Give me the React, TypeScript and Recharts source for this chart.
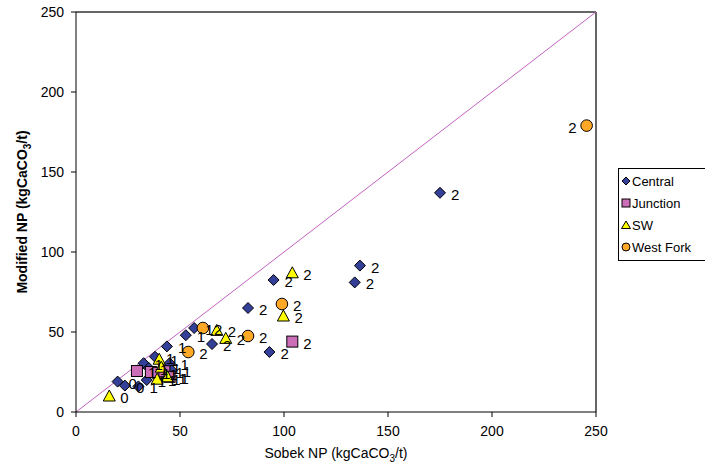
import React from 'react';
import { ScatterChart, Scatter, XAxis, YAxis, ReferenceLine, Label } from 'recharts';

const xTicks = [0, 50, 100, 150, 200, 250];
const yTicks = [0, 50, 100, 150, 200, 250];

const central = [
  { x: 20, y: 19, np: '0' },
  { x: 23.5, y: 16.5, np: '0' },
  { x: 30, y: 16, np: '1' },
  { x: 34, y: 20, np: '1' },
  { x: 32.5, y: 30.5, np: '1' },
  { x: 35, y: 27.5, np: '1' },
  { x: 38, y: 34.5, np: '1' },
  { x: 43.7, y: 41, np: '1' },
  { x: 45, y: 30.5, np: '1' },
  { x: 46, y: 26, np: '1' },
  { x: 41, y: 21, np: '1' },
  { x: 52.8, y: 48, np: '1' },
  { x: 56.8, y: 52.5, np: '1' },
  { x: 65.4, y: 42.5, np: '2' },
  { x: 82.7, y: 65, np: '2' },
  { x: 93, y: 37.5, np: '2' },
  { x: 95, y: 82.5, np: '2' },
  { x: 134, y: 81, np: '2' },
  { x: 136.5, y: 91.5, np: '2' },
  { x: 175, y: 137, np: '2' },
];

const junction = [
  { x: 29.3, y: 25.6, np: '1' },
  { x: 36, y: 25, np: '1' },
  { x: 39.5, y: 24.5, np: '1' },
  { x: 42.5, y: 25.5, np: '1' },
  { x: 45, y: 22, np: '1' },
  { x: 104, y: 44, np: '2' },
];

const sw = [
  { x: 16, y: 10, np: '0' },
  { x: 39, y: 20.5, np: '1' },
  { x: 40, y: 33, np: '1' },
  { x: 41, y: 28, np: '1' },
  { x: 44, y: 22, np: '1' },
  { x: 67.7, y: 51, np: '2' },
  { x: 72, y: 46, np: '2' },
  { x: 99.7, y: 60, np: '2' },
  { x: 104, y: 87, np: '2' },
];

const westFork = [
  { x: 54, y: 37.5, np: '2' },
  { x: 61, y: 52.5, np: '2' },
  { x: 82.7, y: 47.5, np: '2' },
  { x: 99, y: 67.5, np: '2' },
  { x: 245.5, y: 179, np: '2' },
];

const seriesNames = ['Central', 'Junction', 'SW', 'West Fork'];

const FONT = 'Liberation Sans, Arial, sans-serif';
const C_CENTRAL = '#333F99';
const C_JUNCTION = '#CC6DB8';
const C_SW = '#FFFF00';
const C_WF = '#FFA826';

const Diamond = (p: any) => {
  const { cx, cy } = p;
  const r = 5.5;
  return <path d={`M${cx},${cy - r}L${cx + r},${cy}L${cx},${cy + r}L${cx - r},${cy}Z`} fill={C_CENTRAL} stroke="#000" strokeWidth={1} />;
};
const Square = (p: any) => {
  const { cx, cy } = p;
  const h = 5.5;
  return <rect x={cx - h} y={cy - h} width={2 * h} height={2 * h} fill={C_JUNCTION} stroke="#000" strokeWidth={1} />;
};
const Triangle = (p: any) => {
  const { cx, cy } = p;
  return <path d={`M${cx},${cy - 6}L${cx + 6},${cy + 5}L${cx - 6},${cy + 5}Z`} fill={C_SW} stroke="#000" strokeWidth={1} />;
};
const Circle = (p: any) => (
  <circle cx={p.cx} cy={p.cy} r={5.8} fill={C_WF} stroke="#000" strokeWidth={1} />
);

const LabelShape = (p: any) => {
  const { cx, cy, payload } = p;
  const left = payload.x > 240;
  return (
    <text
      x={left ? cx - 10 : cx + 11}
      y={cy + 7}
      textAnchor={left ? 'end' : 'start'}
      fontSize={15}
      fontFamily={FONT}
      fill="#000"
    >
      {payload.np}
    </text>
  );
};

const XTitle = (props: any) => {
  const vb = props.viewBox || {};
  const cx = vb.x + vb.width / 2;
  return (
    <text x={cx} y={458} textAnchor="middle" fontSize={14} fontFamily={FONT} fill="#000">
      Sobek NP (kgCaCO<tspan dy={4} fontSize={10}>3</tspan><tspan dy={-4}>/t)</tspan>
    </text>
  );
};

const YTitle = (props: any) => {
  const vb = props.viewBox || {};
  const cy = vb.y + vb.height / 2;
  return (
    <text x={0} y={0} transform={`translate(27,${cy}) rotate(-90)`} textAnchor="middle" fontSize={14} fontWeight="bold" fontFamily={FONT} fill="#000">
      Modified NP (kgCaCO<tspan dy={4} fontSize={10}>3</tspan><tspan dy={-4}>/t)</tspan>
    </text>
  );
};

const LegendBox = () => {
  const rows = [
    { name: seriesNames[0], y: 13 },
    { name: seriesNames[1], y: 35 },
    { name: seriesNames[2], y: 57 },
    { name: seriesNames[3], y: 79 },
  ];
  return (
    <svg width={90} height={94} style={{ position: 'absolute', left: 618, top: 168 }}>
      <rect x={0.5} y={0.5} width={100} height={92} fill="#fff" stroke="#000" strokeWidth={1} />
      {rows.map((r, i) => {
        const cx = 8;
        const cy = r.y;
        let m;
        if (i === 0) m = <path d={`M${cx},${cy - 4}L${cx + 4},${cy}L${cx},${cy + 4}L${cx - 4},${cy}Z`} fill={C_CENTRAL} stroke="#000" />;
        else if (i === 1) m = <rect x={cx - 4} y={cy - 4} width={8} height={8} fill={C_JUNCTION} stroke="#000" />;
        else if (i === 2) m = <path d={`M${cx},${cy - 4}L${cx + 4.5},${cy + 3.5}L${cx - 4.5},${cy + 3.5}Z`} fill={C_SW} stroke="#000" />;
        else m = <circle cx={cx} cy={cy} r={4} fill={C_WF} stroke="#000" />;
        return (
          <g key={r.name}>
            {m}
            <text x={14} y={cy + 4.5} fontSize={13} fontFamily={FONT} fill="#000">{r.name}</text>
          </g>
        );
      })}
    </svg>
  );
};

export default function App() {
  const tickStyle = { fill: '#000', fontSize: 14, fontFamily: FONT };
  return (
    <div style={{ position: 'absolute', left: 0, top: 0, width: 705, height: 468, overflow: 'hidden', background: '#fff' }}>
      <ScatterChart width={705} height={468} margin={{ top: 12, right: 109, bottom: 0, left: 0 }}>
        <XAxis
          type="number"
          dataKey="x"
          domain={[0, 250]}
          ticks={xTicks}
          height={56}
          tickSize={5}
          tickMargin={9}
          tick={tickStyle}
          axisLine={{ stroke: '#000' }}
          tickLine={{ stroke: '#000' }}
          allowDataOverflow
        >
          <Label content={<XTitle />} />
        </XAxis>
        <YAxis
          type="number"
          dataKey="y"
          domain={[0, 250]}
          ticks={yTicks}
          width={76}
          tickSize={5}
          tickMargin={7}
          tick={tickStyle}
          axisLine={{ stroke: '#000' }}
          tickLine={{ stroke: '#000' }}
          allowDataOverflow
        >
          <Label content={<YTitle />} />
        </YAxis>
        <ReferenceLine y={250} stroke="#333" strokeWidth={1.5} ifOverflow="visible" />
        <ReferenceLine x={250} stroke="#333" strokeWidth={1.5} ifOverflow="visible" />
        <ReferenceLine segment={[{ x: 0, y: 0 }, { x: 250, y: 250 }]} stroke="#C062C0" strokeWidth={1} ifOverflow="visible" />
        <Scatter name="Central" data={central} shape={<Diamond />} isAnimationActive={false} />
        <Scatter name="Junction" data={junction} shape={<Square />} isAnimationActive={false} />
        <Scatter name="SW" data={sw} shape={<Triangle />} isAnimationActive={false} />
        <Scatter name="West Fork" data={westFork} shape={<Circle />} isAnimationActive={false} />
        <Scatter data={central} shape={<LabelShape />} isAnimationActive={false} legendType="none" />
        <Scatter data={junction} shape={<LabelShape />} isAnimationActive={false} legendType="none" />
        <Scatter data={sw} shape={<LabelShape />} isAnimationActive={false} legendType="none" />
        <Scatter data={westFork} shape={<LabelShape />} isAnimationActive={false} legendType="none" />
      </ScatterChart>
      <LegendBox />
    </div>
  );
}
